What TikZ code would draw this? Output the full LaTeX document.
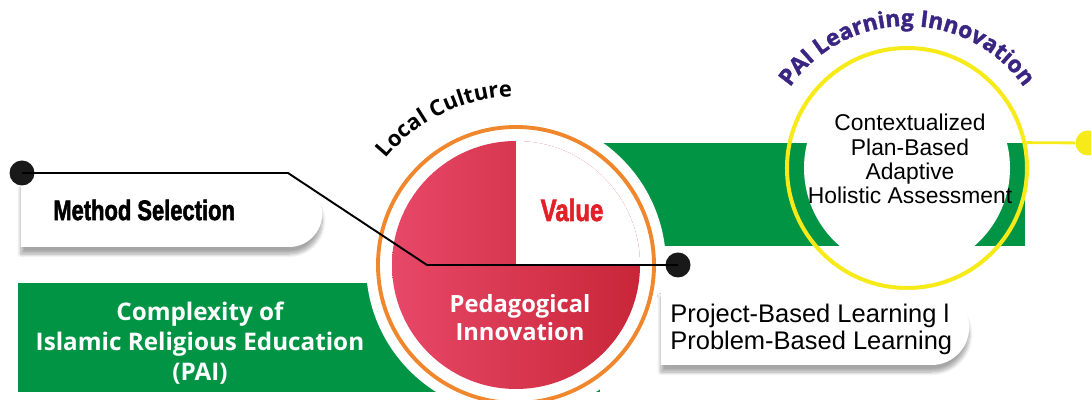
\documentclass[tikz,border=0pt]{standalone}
\usepackage{fontspec}
\setmainfont{Liberation Sans}
\newfontfamily\opensans{Open Sans}
\newfontfamily\opensansheavy[BoldFeatures={FakeBold=1.6}]{Open Sans}
\newfontfamily\heavycond[BoldFeatures={FakeBold=2.2}]{Liberation Sans}
\usetikzlibrary{shapes.misc,shadows.blur,decorations.text}

\definecolor{pgreen}{RGB}{0,148,68}
\definecolor{orng}{RGB}{240,135,45}
\definecolor{redl}{RGB}{232,72,104}
\definecolor{redr}{RGB}{200,38,56}
\definecolor{valred}{RGB}{226,32,40}
\definecolor{ylw}{RGB}{246,234,24}
\definecolor{indigo}{RGB}{58,38,130}

\newcommand\narrowbold[2][16]{\scalebox{0.78}[1]{\heavycond\bfseries\fontsize{#1}{18}\selectfont #2}}

\tikzset{
  pill/.style={rounded rectangle, rounded rectangle west arc=none, fill=white,
    blur shadow={shadow xshift=0pt, shadow yshift=-4pt, shadow blur steps=8, shadow opacity=35}},
  dot/.style={circle, fill=black!90, minimum size=0.5cm, inner sep=0pt},
  wtext/.style={text=white, align=center, font=\opensans\bfseries\fontsize{13.8}{17}\selectfont},
}

\begin{document}
\begin{tikzpicture}
  \useasboundingbox (0,0) rectangle (21.82,8);

  \coordinate (oc) at (10.32,2.7);
  \coordinate (yc) at (18.14,4.64);

  % green bands, cut open around both circles
  \fill[pgreen] (0.36,0.16) rectangle (12,2.34);
  \fill[pgreen] (9,3.08) rectangle (20.5,5.14);
  \fill[white] (oc) circle [radius=3];
  \fill[white] (yc) circle [radius=2.06];

  % centre disk
  \node[circle, draw=orng, line width=2.2pt, minimum size=5.52cm] (ring) at (oc) {};
  \shade[left color=redl, right color=redr] (oc) circle [radius=2.48];
  \fill[white] (oc) -- ++(0:2.48) arc[start angle=0, end angle=90, radius=2.48] -- cycle;

  % right circle
  \node[circle, draw=ylw, line width=2.3pt, minimum size=4.8cm] (yring) at (yc) {};
  \node[dot, fill=ylw] (ydot) at (21.76,5.14) {};
  \draw[ylw, line width=1.6pt] (yring.12) -- (ydot);

  % boxes
  \node[pill, minimum width=6.26cm, minimum height=1.32cm] (msel) at (3.43,3.72) {};
  \node[pill, minimum width=6.4cm, minimum height=1.5cm] (pbl) at (16.3,1.45) {};

  % connector
  \coordinate (k1) at (5.76,4.54);
  \coordinate (k2) at (8.54,2.7);
  \node[dot] (d1) at (0.44,4.54) {};
  \node[dot] (d2) at (13.56,2.7) {};
  \draw[line width=1.1pt] (d1.center) -- (k1) -- (k2) -- (d2.center);

  % texts
  \node[anchor=west, inner sep=0pt] (mtext) at (1.06,3.8) {\narrowbold{Method Selection}};
  \node[text=valred, inner sep=0pt] (val) at (11.44,3.8) {\narrowbold[17.5]{Value}};
  \node[wtext] (cpx) at (4.0,1.14) {Complexity of\\Islamic Religious Education\\(PAI)};
  \node[wtext, font=\opensans\bfseries\fontsize{13.5}{16}\selectfont] (ped) at (10.4,1.64) {Pedagogical\\Innovation};
  \node[anchor=west, align=left, inner sep=0pt, font=\fontsize{14.5}{15.3}\selectfont] (ptext) at (13.4,1.42)
    {Project-Based Learning l\\Problem-Based Learning};
  \node[align=center, font=\fontsize{13}{13.8}\selectfont] (plan) at (18.2,4.82)
    {Contextualized\\Plan-Based\\Adaptive\\Holistic Assessment};

  \path[decorate, decoration={text along path, text align=center,
      text={|\opensans\bfseries\fontsize{12.5}{14}\selectfont|Local Culture}}]
    ([shift={(160:3.36)}]oc) arc[start angle=160, end angle=72, radius=3.36];
  \path[decorate, decoration={text along path, text align=center,
      text={|\opensansheavy\bfseries\fontsize{13}{15}\selectfont\color{indigo}|PAI Learning Innovation}}]
    ([shift={(170:2.84)}]yc) arc[start angle=170, end angle=10, radius=2.84];
\end{tikzpicture}
\end{document}
